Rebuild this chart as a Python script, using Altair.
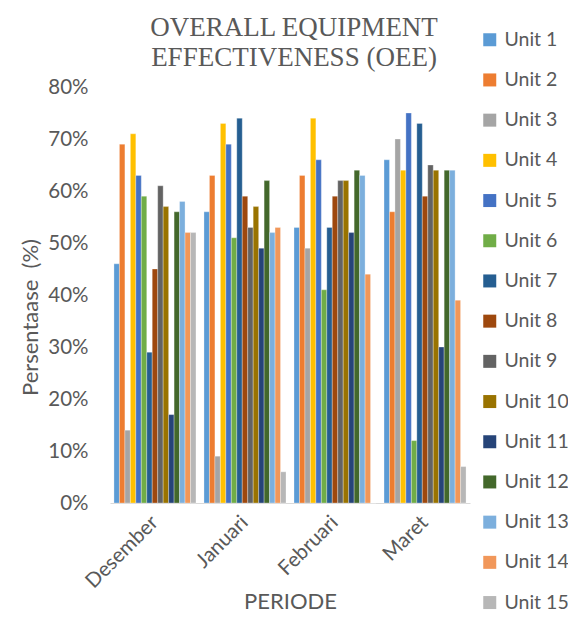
import altair as alt
import pandas as pd

months = ["Desember", "Januari", "Februari", "Maret"]
units = ["Unit 1", "Unit 2", "Unit 3", "Unit 4", "Unit 5", "Unit 6", "Unit 7", "Unit 8",
         "Unit 9", "Unit 10", "Unit 11", "Unit 12", "Unit 13", "Unit 14", "Unit 15"]

desember = [46, 69, 14, 71, 63, 59, 29, 45, 61, 57, 17, 56, 58, 52, 52]
januari = [56, 63, 9, 73, 69, 51, 74, 59, 53, 57, 49, 62, 52, 53, 6]
februari = [53, 63, 49, 74, 66, 41, 53, 59, 62, 62, 52, 64, 63, 44, 0]
maret = [66, 56, 70, 64, 75, 12, 73, 59, 65, 64, 30, 64, 64, 39, 7]

colors = ["#5B9BD5", "#ED7D31", "#A5A5A5", "#FFC000", "#4472C4", "#70AD47", "#255E91",
          "#9E480E", "#636363", "#997300", "#264478", "#43682B", "#7CAFDD", "#F1975A", "#B7B7B7"]

y_ticks = [0, 0.1, 0.2, 0.3, 0.4, 0.5, 0.6, 0.7, 0.8]

rows = []
for m, vals in zip(months, [desember, januari, februari, maret]):
    for u, v in zip(units, vals):
        rows.append({"Periode": m, "Unit": u, "OEE": v / 100})
df = pd.DataFrame(rows)

GRAY = "#595959"

chart = alt.Chart(df).mark_bar(stroke="white", strokeWidth=0.3).encode(
    x=alt.X("Periode:N", sort=months,
            scale=alt.Scale(paddingInner=0.089, paddingOuter=0.044),
            axis=alt.Axis(title="PERIODE", labelAngle=-45, labelAlign="right",
                          labelBaseline="middle", labelPadding=16, ticks=False,
                          domainColor="#D9D9D9", domainWidth=1.2,
                          labelFontSize=20.5, labelColor=GRAY,
                          titleFontSize=22, titleColor=GRAY, titleFontWeight="normal",
                          titleBaseline="alphabetic", titleY=105)),
    xOffset=alt.XOffset("Unit:N", sort=units,
                        scale=alt.Scale(paddingInner=0, paddingOuter=0)),
    y=alt.Y("OEE:Q", scale=alt.Scale(domain=[0, 0.8], nice=False),
            axis=alt.Axis(title="Persentaase\u00a0\u00a0(%)", format=".0%", values=y_ticks,
                          ticks=False, domain=False, grid=False, labelPadding=22,
                          labelFontSize=20.5, labelColor=GRAY,
                          titleFontSize=22, titleColor=GRAY, titleFontWeight="normal",
                          titleAlign="center", titleY=230, titleX=-80,
                          titleBaseline="middle")),
    color=alt.Color("Unit:N", scale=alt.Scale(domain=units, range=colors),
                    legend=alt.Legend(title=None, orient="none", legendX=370, legendY=-57,
                                      symbolType="square", symbolSize=169,
                                      symbolStrokeWidth=0, labelFontSize=19.5,
                                      labelColor=GRAY, rowPadding=19.2, padding=0,
                                      labelOffset=5)),
).properties(
    width=360,
    height=416,
    title=alt.TitleParams(["OVERALL EQUIPMENT", "EFFECTIVENESS (OEE)"],
                          font="Liberation Serif", fontSize=27, fontWeight="normal",
                          color=GRAY, lineHeight=30, anchor="middle", offset=0,
                          dy=42, dx=4),
    padding={"left": 102, "top": 79, "right": 98, "bottom": 111},
    autosize="none",
).configure(font="Lato").configure_view(stroke=None).configure_axis(grid=False)

chart.save("out.html", embed_options={"renderer": "svg", "actions": False})
